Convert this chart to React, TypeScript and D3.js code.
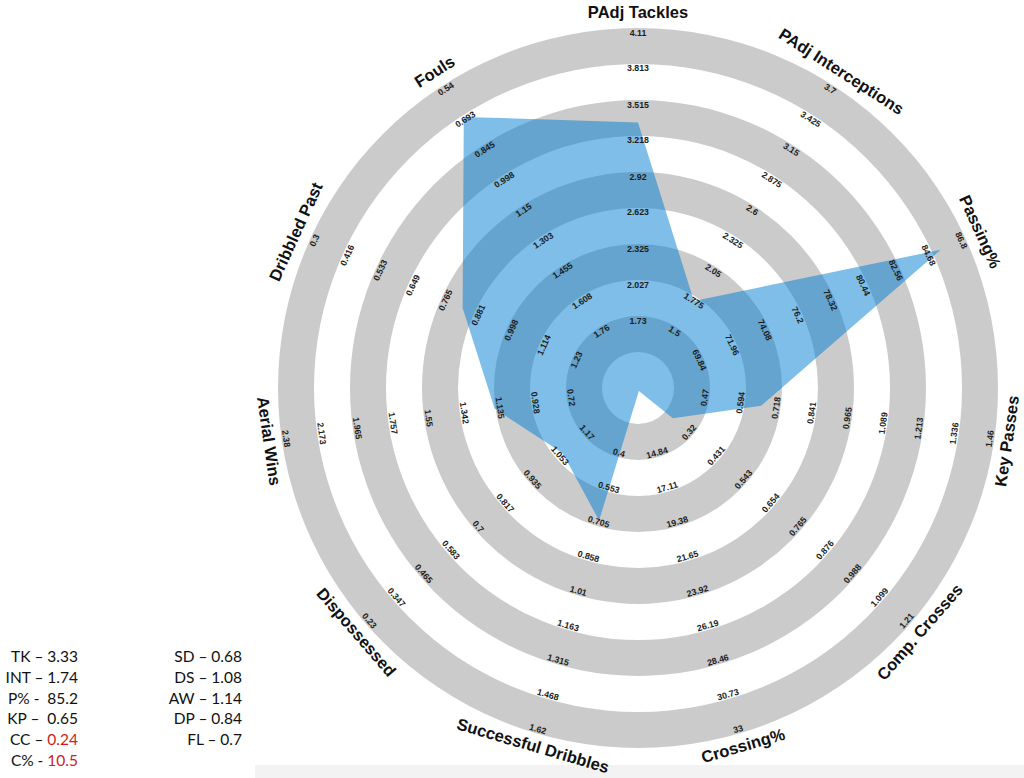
import React from "react";
import * as d3 from "d3";

const axisNames = [
  "PAdj Tackles",
  "PAdj Interceptions",
  "Passing%",
  "Key Passes",
  "Comp. Crosses",
  "Crossing%",
  "Successful Dribbles",
  "Dispossessed",
  "Aerial Wins",
  "Dribbled Past",
  "Fouls",
];

const playerValues = [3.33, 1.74, 85.2, 0.65, 0.24, 10.5, 0.68, 1.08, 1.14, 0.84, 0.7];

// tick labels, listed from the inner ring to the outer ring
const tackleTicks = [1.73, 2.027, 2.325, 2.623, 2.92, 3.218, 3.515, 3.813, 4.11];
const interceptionTicks = [1.5, 1.775, 2.05, 2.325, 2.6, 2.875, 3.15, 3.425, 3.7];
const passingTicks = [69.84, 71.96, 74.08, 76.2, 78.32, 80.44, 82.56, 84.68, 86.8];
const keyPassTicks = [0.47, 0.594, 0.718, 0.841, 0.965, 1.089, 1.213, 1.336, 1.46];
const compCrossTicks = [0.32, 0.431, 0.543, 0.654, 0.765, 0.876, 0.988, 1.099, 1.21];
const crossingTicks = [14.84, 17.11, 19.38, 21.65, 23.92, 26.19, 28.46, 30.73, 33];
const dribbleTicks = [0.4, 0.553, 0.705, 0.858, 1.01, 1.163, 1.315, 1.468, 1.62];
const dispossessedTicks = [1.17, 1.053, 0.935, 0.817, 0.7, 0.583, 0.465, 0.347, 0.23];
const aerialTicks = [0.72, 0.928, 1.135, 1.342, 1.55, 1.757, 1.965, 2.173, 2.38];
const dribbledPastTicks = [1.23, 1.114, 0.998, 0.881, 0.765, 0.649, 0.533, 0.416, 0.3];
const foulTicks = [1.76, 1.608, 1.455, 1.303, 1.15, 0.998, 0.845, 0.693, 0.54];

const axisTicks = [
  tackleTicks,
  interceptionTicks,
  passingTicks,
  keyPassTicks,
  compCrossTicks,
  crossingTicks,
  dribbleTicks,
  dispossessedTicks,
  aerialTicks,
  dribbledPastTicks,
  foulTicks,
];

const statLeftLabels = ["TK \u2013 ", "INT \u2013 ", "P% -  ", "KP \u2013  ", "CC \u2013 ", "C% - "];
const statLeftValues = ["3.33", "1.74", "85.2", "0.65", "0.24", "10.5"];
const statLeftRed = [false, false, false, false, true, true];
const statRightLabels = ["SD \u2013 ", "DS \u2013 ", "AW \u2013 ", "DP \u2013 ", "FL \u2013 "];
const statRightValues = ["0.68", "1.08", "1.14", "0.84", "0.7"];

const W = 1024;
const H = 778;
const cx = 638;
const cy = 388;
const R = 360;

export default function App() {
  const n = axisNames.length;
  const angle = (i: number) => (i * 2 * Math.PI) / n;

  const scales = axisTicks.map((t) => {
    const first = t[0];
    const last = t[t.length - 1];
    const step = (last - first) / (t.length - 1);
    return d3.scaleLinear().domain([first - 2 * step, last]).range([0, R]);
  });

  // ring radii: level k (k = -2..8) -> radius
  const levelScale = d3.scaleLinear().domain([-2, 8]).range([0, R]);
  const arc = d3.arc<any>();
  const bands = [
    [7, 8],
    [5, 6],
    [3, 4],
    [1, 2],
    [-1, 0],
  ];

  const radial = d3
    .lineRadial<number>()
    .angle((_, i) => angle(i))
    .radius((v, i) => scales[i](v))
    .curve(d3.curveLinearClosed);

  const pos = (i: number, r: number) => {
    const a = angle(i);
    return [cx + r * Math.sin(a), cy - r * Math.cos(a)];
  };
  const isFlipped = (i: number) => {
    const deg = (angle(i) * 180) / Math.PI;
    return deg > 90 && deg < 270;
  };
  const rot = (i: number) => {
    const deg = (angle(i) * 180) / Math.PI;
    if (deg > 90 && deg < 270) return deg - 180;
    if (deg >= 270) return deg - 360;
    return deg;
  };

  return (
    <svg
      width={W}
      height={H}
      style={{ position: "absolute", left: 0, top: 0, background: "#fff" }}
    >
      <rect x={255} y={765} width={W - 255} height={H - 765} fill="#f3f3f3" />
      <g transform={`translate(${cx},${cy})`}>
        {bands.map(([a, b], k) => (
          <path
            key={k}
            d={
              arc({
                innerRadius: levelScale(a),
                outerRadius: levelScale(b),
                startAngle: 0,
                endAngle: 2 * Math.PI,
              }) as string
            }
            fill="#cbcbcb"
          />
        ))}
        <path d={radial(playerValues) as string} fill="rgb(0,125,210)" fillOpacity={0.5} />
      </g>
      {axisTicks.map((ticks, i) =>
        ticks.map((t, j) => {
          const [x, y] = pos(i, scales[i](t) - 4.5);
          return (
            <text
              key={`${i}-${j}`}
              x={x}
              y={y}
              transform={`rotate(${rot(i)},${x},${y})`}
              textAnchor="middle"
              dominantBaseline="central"
              fontFamily="'Liberation Sans', Arial, sans-serif"
              fontSize={8.8}
              fontWeight="bold"
              fill="#1c1c1c"
            >
              {String(t)}
            </text>
          );
        })
      )}
      {axisNames.map((name, i) => {
        const [x, y] = pos(i, R + (isFlipped(i) ? 12.5 : 16.5));
        return (
          <text
            key={name}
            x={x}
            y={y}
            transform={`rotate(${rot(i)},${x},${y})`}
            textAnchor="middle"
            dominantBaseline="central"
            fontFamily="'Liberation Sans', Arial, sans-serif"
            fontSize={16.5}
            fontWeight="bold"
            fill="#111"
          >
            {name}
          </text>
        );
      })}
      <g fontFamily="Lato, 'Open Sans', sans-serif" fontSize={15.5} fill="#111" style={{ whiteSpace: "pre" }}>
        {statLeftLabels.map((l, i) => (
          <text key={l} x={78} y={662 + i * 20.8} textAnchor="end" xmlSpace="preserve">
            <tspan>{l}</tspan>
            <tspan fill={statLeftRed[i] ? "#d01c1c" : "#111"}>{statLeftValues[i]}</tspan>
          </text>
        ))}
        {statRightLabels.map((l, i) => (
          <text key={l} x={242} y={662 + i * 20.8} textAnchor="end" xmlSpace="preserve">
            <tspan>{l}</tspan>
            <tspan>{statRightValues[i]}</tspan>
          </text>
        ))}
      </g>
    </svg>
  );
}
